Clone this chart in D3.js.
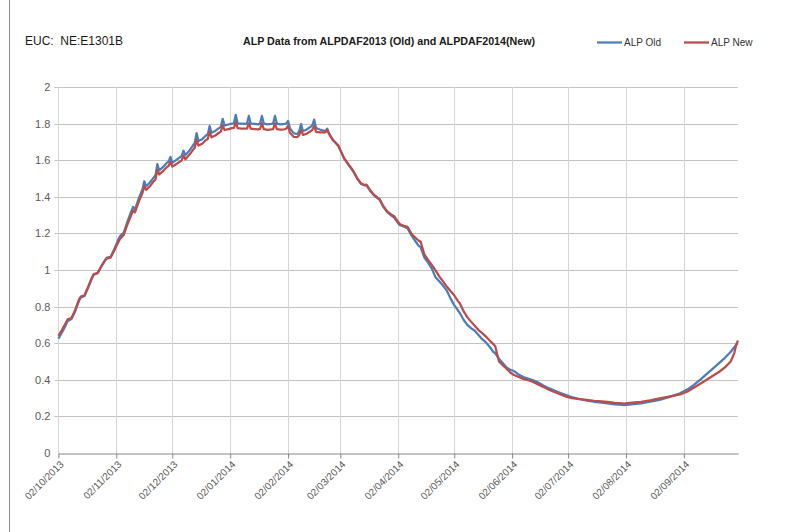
<!DOCTYPE html>
<html>
<head>
<meta charset="utf-8">
<script src="https://cdn.jsdelivr.net/npm/d3@7"></script>
<style>
	body { margin: 0; background: #fff; }
	svg { display: block; font-family: "Liberation Sans", Arial, sans-serif; }
	.grid-h line { stroke: #c4c4c4; stroke-width: 1; }
	.grid-v line { stroke: #d6d6d6; stroke-width: 1; }
	.axis text { fill: #595959; }
	.line { fill: none; stroke-width: 2.25; stroke-linejoin: round; }
</style>
</head>
<body>
<svg id="chart" width="810" height="532"></svg>
<script>
// values, one entry per point (dd/mm/yyyy)
var dates = [
	"02/10/2013","04/10/2013","06/10/2013","07/10/2013","09/10/2013","11/10/2013","13/10/2013","14/10/2013","16/10/2013","18/10/2013",
	"20/10/2013","21/10/2013","23/10/2013","25/10/2013","27/10/2013","28/10/2013","30/10/2013","01/11/2013","03/11/2013","04/11/2013",
	"06/11/2013","08/11/2013","10/11/2013","11/11/2013","12/11/2013","14/11/2013","16/11/2013","17/11/2013","18/11/2013","20/11/2013",
	"22/11/2013","23/11/2013","24/11/2013","25/11/2013","27/11/2013","29/11/2013","30/11/2013","01/12/2013","02/12/2013","04/12/2013",
	"06/12/2013","07/12/2013","08/12/2013","09/12/2013","11/12/2013","13/12/2013","14/12/2013","15/12/2013","16/12/2013","18/12/2013",
	"20/12/2013","21/12/2013","22/12/2013","23/12/2013","25/12/2013","27/12/2013","28/12/2013","29/12/2013","30/12/2013","01/01/2014",
	"03/01/2014","04/01/2014","05/01/2014","06/01/2014","08/01/2014","10/01/2014","11/01/2014","12/01/2014","13/01/2014","15/01/2014",
	"17/01/2014","18/01/2014","19/01/2014","20/01/2014","22/01/2014","24/01/2014","25/01/2014","26/01/2014","27/01/2014","29/01/2014",
	"31/01/2014","01/02/2014","02/02/2014","03/02/2014","05/02/2014","07/02/2014","08/02/2014","09/02/2014","10/02/2014","12/02/2014",
	"14/02/2014","15/02/2014","16/02/2014","17/02/2014","19/02/2014","21/02/2014","22/02/2014","23/02/2014","24/02/2014","26/02/2014",
	"28/02/2014","01/03/2014","02/03/2014","04/03/2014","06/03/2014","08/03/2014","09/03/2014","11/03/2014","13/03/2014","15/03/2014",
	"16/03/2014","18/03/2014","20/03/2014","22/03/2014","23/03/2014","25/03/2014","27/03/2014","29/03/2014","31/03/2014","02/04/2014",
	"03/04/2014","05/04/2014","07/04/2014","09/04/2014","11/04/2014","13/04/2014","14/04/2014","16/04/2014","18/04/2014","20/04/2014",
	"22/04/2014","24/04/2014","26/04/2014","28/04/2014","30/04/2014","02/05/2014","04/05/2014","05/05/2014","07/05/2014","09/05/2014",
	"11/05/2014","13/05/2014","15/05/2014","17/05/2014","19/05/2014","21/05/2014","23/05/2014","24/05/2014","25/05/2014","26/05/2014",
	"28/05/2014","30/05/2014","01/06/2014","03/06/2014","05/06/2014","08/06/2014","11/06/2014","13/06/2014","16/06/2014","19/06/2014",
	"22/06/2014","25/06/2014","28/06/2014","01/07/2014","04/07/2014","08/07/2014","12/07/2014","16/07/2014","20/07/2014","23/07/2014",
	"27/07/2014","31/07/2014","01/08/2014","05/08/2014","10/08/2014","15/08/2014","20/08/2014","25/08/2014","31/08/2014","04/09/2014",
	"07/09/2014","11/09/2014","14/09/2014","18/09/2014","21/09/2014","24/09/2014","27/09/2014","29/09/2014","30/09/2014","01/10/2014"
];

var alpOld = [
	0.625,0.660,0.700,0.722,0.732,0.775,0.830,0.850,0.858,0.905,
	0.955,0.975,0.982,1.020,1.055,1.068,1.072,1.115,1.165,1.185,
	1.205,1.265,1.320,1.345,1.330,1.390,1.440,1.485,1.458,1.478,
	1.505,1.518,1.578,1.545,1.562,1.585,1.592,1.618,1.585,1.600,
	1.615,1.622,1.652,1.628,1.650,1.680,1.695,1.748,1.705,1.715,
	1.735,1.742,1.787,1.750,1.760,1.775,1.782,1.826,1.790,1.795,
	1.800,1.802,1.848,1.800,1.800,1.798,1.800,1.842,1.800,1.798,
	1.796,1.800,1.842,1.800,1.796,1.798,1.800,1.842,1.800,1.796,
	1.798,1.800,1.815,1.775,1.748,1.742,1.760,1.797,1.758,1.768,
	1.782,1.790,1.822,1.775,1.768,1.762,1.760,1.772,1.745,1.712,
	1.690,1.680,1.655,1.610,1.580,1.552,1.538,1.500,1.472,1.462,
	1.463,1.432,1.408,1.392,1.385,1.345,1.318,1.300,1.285,1.255,
	1.245,1.238,1.228,1.190,1.160,1.132,1.125,1.068,1.040,1.008,
	0.960,0.938,0.915,0.888,0.845,0.808,0.780,0.765,0.728,0.700,
	0.682,0.668,0.645,0.622,0.604,0.580,0.552,0.545,0.530,0.515,
	0.492,0.468,0.455,0.448,0.432,0.415,0.405,0.399,0.385,0.368,
	0.353,0.340,0.328,0.317,0.305,0.295,0.286,0.280,0.275,0.271,
	0.266,0.263,0.262,0.266,0.271,0.280,0.290,0.305,0.326,0.348,
	0.370,0.402,0.430,0.465,0.492,0.520,0.552,0.578,0.592,0.600
];

var alpNew = [
	0.640,0.675,0.712,0.730,0.738,0.782,0.838,0.855,0.862,0.910,
	0.960,0.978,0.984,1.020,1.052,1.064,1.068,1.108,1.150,1.170,
	1.192,1.250,1.300,1.325,1.315,1.372,1.420,1.458,1.438,1.458,
	1.484,1.495,1.548,1.522,1.540,1.562,1.568,1.592,1.565,1.578,
	1.592,1.598,1.625,1.605,1.628,1.655,1.668,1.712,1.680,1.690,
	1.710,1.716,1.755,1.725,1.735,1.750,1.756,1.790,1.765,1.770,
	1.775,1.776,1.808,1.775,1.773,1.772,1.773,1.802,1.772,1.770,
	1.768,1.771,1.802,1.770,1.766,1.768,1.770,1.802,1.770,1.767,
	1.769,1.772,1.788,1.750,1.728,1.726,1.738,1.765,1.738,1.745,
	1.758,1.766,1.788,1.755,1.752,1.752,1.752,1.765,1.742,1.710,
	1.688,1.678,1.656,1.612,1.583,1.555,1.540,1.502,1.474,1.465,
	1.466,1.436,1.412,1.395,1.388,1.350,1.322,1.305,1.292,1.262,
	1.250,1.242,1.236,1.200,1.178,1.160,1.155,1.085,1.055,1.028,
	0.998,0.965,0.938,0.910,0.885,0.862,0.830,0.818,0.775,0.742,
	0.718,0.695,0.672,0.655,0.636,0.615,0.595,0.583,0.540,0.500,
	0.480,0.460,0.440,0.426,0.418,0.405,0.396,0.390,0.375,0.360,
	0.344,0.332,0.320,0.308,0.300,0.295,0.290,0.285,0.282,0.280,
	0.274,0.271,0.270,0.275,0.280,0.288,0.299,0.308,0.320,0.336,
	0.355,0.380,0.399,0.425,0.444,0.468,0.499,0.545,0.590,0.615
];

var monthTicks = ["02/10/2013","02/11/2013","02/12/2013","02/01/2014","02/02/2014","02/03/2014",
	"02/04/2014","02/05/2014","02/06/2014","02/07/2014","02/08/2014","02/09/2014"];
var yTicks = [0,0.2,0.4,0.6,0.8,1,1.2,1.4,1.6,1.8,2];

var seriesNames = ["ALP Old","ALP New"];
var seriesColors = ["#4a7ebb","#be4b48"];
var chartTitle = "ALP Data from ALPDAF2013 (Old) and ALPDAF2014(New)";
var chartLabel = "EUC:  NE:E1301B";

var parse = d3.timeParse("%d/%m/%Y"),
	fmt = d3.timeFormat("%d/%m/%Y");

var plot = { left: 58.4, right: 738, top: 87, bottom: 453 };

var svg = d3.select("#chart");

// outer frame edge on the left
svg.append("line")
	.attr("x1",9.5).attr("x2",9.5)
	.attr("y1",0).attr("y2",532)
	.attr("stroke","#8c8c8c");

var scale_x = d3.scaleTime()
	.domain([parse(dates[0]), parse(dates[dates.length-1])])
	.range([plot.left, plot.right]);
var scale_y = d3.scaleLinear()
	.domain([0,2])
	.range([plot.bottom, plot.top]);

// gridlines
svg.append("g").attr("class","grid-h")
	.selectAll("line").data(yTicks.slice(1)).enter()
	.append("line")
	.attr("x1",plot.left-4).attr("x2",plot.right)
	.attr("y1",function(d){ return Math.round(scale_y(d))+0.5; })
	.attr("y2",function(d){ return Math.round(scale_y(d))+0.5; });

svg.append("g").attr("class","grid-v")
	.selectAll("line").data(monthTicks).enter()
	.append("line")
	.attr("x1",function(d){ return Math.round(scale_x(parse(d)))+0.5; })
	.attr("x2",function(d){ return Math.round(scale_x(parse(d)))+0.5; })
	.attr("y1",plot.top).attr("y2",plot.bottom);

// y axis labels
var yaxis = d3.axisLeft(scale_y)
	.tickValues(yTicks)
	.tickSize(0)
	.tickPadding(8)
	.tickFormat(function(d){ return String(+d.toFixed(1)); });
var y_ax_group = svg.append("g")
	.attr("class","axis axis-y")
	.attr("transform","translate("+plot.left+",0)")
	.call(yaxis);
y_ax_group.select(".domain").remove();
y_ax_group.selectAll("text")
	.attr("font-size",11)
	.attr("font-family","'Liberation Sans', Arial, sans-serif");

// x axis
var xaxis = d3.axisBottom(scale_x)
	.tickValues(monthTicks.map(parse))
	.tickSize(5)
	.tickSizeOuter(0)
	.tickFormat(fmt);
var x_ax_group = svg.append("g")
	.attr("class","axis axis-x")
	.attr("transform","translate(0,"+(plot.bottom+0.5)+")")
	.call(xaxis);
x_ax_group.select(".domain").attr("stroke","#868686");
x_ax_group.selectAll(".tick line").attr("stroke","#868686");
x_ax_group.selectAll("text")
	.attr("font-size",10)
	.attr("font-family","'Liberation Sans', Arial, sans-serif")
	.attr("text-anchor","end")
	.attr("x",0).attr("y",0).attr("dy","0.35em")
	.attr("transform","translate(3,9) rotate(-45)");

// lines
var points = dates.map(function(d,i){ return { date: parse(d), old: alpOld[i], neu: alpNew[i] }; });
var keys = ["old","neu"];
keys.forEach(function(k,i){
	var line = d3.line()
		.x(function(d){ return scale_x(d.date); })
		.y(function(d){ return scale_y(d[k]); })
		.curve(d3.curveLinear);
	svg.append("path")
		.datum(points)
		.attr("class","line")
		.attr("stroke",seriesColors[i])
		.attr("d",line);
});

// header texts
svg.append("text")
	.attr("x",25).attr("y",45)
	.attr("font-size",12)
	.attr("fill","#1a1a1a")
	.style("white-space","pre")
	.text(chartLabel);

svg.append("text")
	.attr("x",243).attr("y",45)
	.attr("font-size",11.5)
	.attr("font-weight","bold")
	.attr("fill","#1a1a1a")
	.attr("textLength",292)
	.attr("lengthAdjust","spacingAndGlyphs")
	.text(chartTitle);

// legend
var legendX = [597,684];
var legend = svg.append("g").attr("class","legend");
seriesNames.forEach(function(name,i){
	legend.append("line")
		.attr("x1",legendX[i]).attr("x2",legendX[i]+25)
		.attr("y1",42.5).attr("y2",42.5)
		.attr("stroke",seriesColors[i])
		.attr("stroke-width",2.25);
	legend.append("text")
		.attr("x",legendX[i]+27).attr("y",46)
		.attr("font-size",10)
		.attr("fill","#333")
		.text(name);
});
</script>
</body>
</html>
